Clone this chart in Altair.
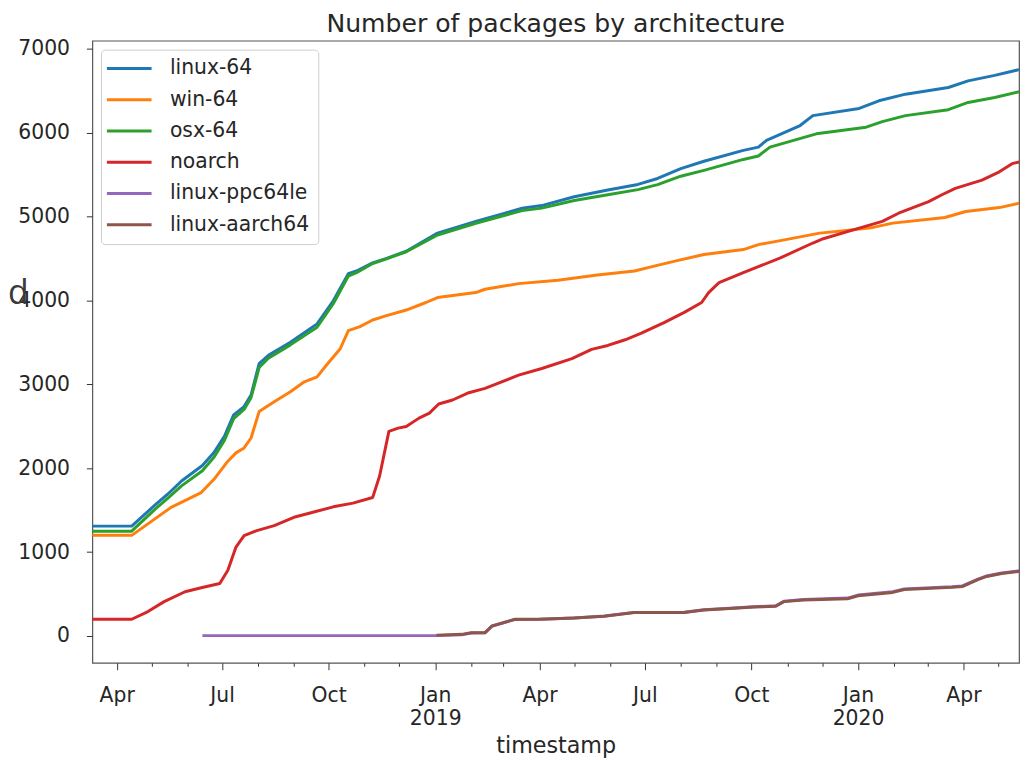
import altair as alt
import pandas as pd

order = ["linux-64", "win-64", "osx-64", "noarch", "linux-ppc64le", "linux-aarch64"]
colors = ["#1f77b4", "#ff7f0e", "#2ca02c", "#d62728", "#9467bd", "#8c564b"]

linux64_dates = ["2018-03-11", "2018-04-14", "2018-05-04", "2018-05-15", "2018-05-27", "2018-06-14",
                 "2018-06-24", "2018-07-03", "2018-07-11", "2018-07-20", "2018-07-26", "2018-08-02",
                 "2018-08-10", "2018-08-29", "2018-09-21", "2018-10-05", "2018-10-18", "2018-10-25",
                 "2018-11-08", "2018-11-20", "2018-12-07", "2019-01-03", "2019-02-05", "2019-03-17",
                 "2019-04-03", "2019-05-01", "2019-05-30", "2019-06-25", "2019-07-12", "2019-08-01",
                 "2019-08-21", "2019-09-24", "2019-10-07", "2019-10-14", "2019-11-12", "2019-11-23",
                 "2020-01-02", "2020-01-19", "2020-02-11", "2020-03-19", "2020-04-05", "2020-04-28",
                 "2020-05-19"]
linux64_vals = [1310, 1310, 1560, 1690, 1848, 2033, 2187, 2380, 2636, 2734, 2872, 3247, 3345, 3502,
                3720, 3995, 4318, 4350, 4448, 4500, 4586, 4802, 4941, 5098, 5130, 5236, 5315, 5382,
                5453, 5571, 5658, 5788, 5827, 5906, 6084, 6202, 6288, 6379, 6458, 6537, 6616, 6682,
                6750]

osx64_dates = ["2018-03-11", "2018-04-14", "2018-05-04", "2018-05-15", "2018-05-27", "2018-06-14",
               "2018-06-24", "2018-07-03", "2018-07-11", "2018-07-20", "2018-07-26", "2018-08-02",
               "2018-08-10", "2018-08-29", "2018-09-21", "2018-10-05", "2018-10-18", "2018-10-25",
               "2018-11-08", "2018-11-20", "2018-12-07", "2019-01-03", "2019-02-05", "2019-03-17",
               "2019-04-03", "2019-05-01", "2019-05-30", "2019-06-25", "2019-07-12", "2019-08-01",
               "2019-08-21", "2019-09-24", "2019-10-07", "2019-10-17", "2019-11-26", "2020-01-08",
               "2020-01-22", "2020-02-11", "2020-03-19", "2020-04-05", "2020-04-28", "2020-05-19"]
osx64_vals = [1250, 1250, 1510, 1640, 1790, 1970, 2130, 2330, 2590, 2700, 2840, 3200, 3310, 3470,
              3680, 3960, 4290, 4330, 4440, 4495, 4580, 4780, 4920, 5070, 5100, 5190, 5260, 5320,
              5380, 5480, 5550, 5680, 5721, 5827, 5985, 6064, 6131, 6202, 6273, 6359, 6418, 6486]

win64_dates = ["2018-03-11", "2018-04-14", "2018-05-18", "2018-06-13", "2018-06-24", "2018-07-06",
               "2018-07-13", "2018-07-20", "2018-07-26", "2018-08-02", "2018-08-15", "2018-08-29",
               "2018-09-10", "2018-09-21", "2018-09-29", "2018-10-11", "2018-10-18", "2018-10-28",
               "2018-11-08", "2018-11-20", "2018-12-07", "2018-12-24", "2019-01-03", "2019-02-05",
               "2019-02-13", "2019-03-14", "2019-04-17", "2019-05-21", "2019-06-08", "2019-06-22",
               "2019-07-09", "2019-07-27", "2019-08-21", "2019-09-24", "2019-10-07", "2019-10-26",
               "2019-11-29", "2019-12-22", "2020-01-14", "2020-01-31", "2020-03-16", "2020-04-03",
               "2020-05-02", "2020-05-19"]
win64_vals = [1200, 1200, 1533, 1710, 1868, 2084, 2183, 2242, 2360, 2675, 2793, 2911, 3030, 3089,
              3227, 3424, 3640, 3688, 3767, 3818, 3885, 3975, 4034, 4093, 4133, 4200, 4240, 4302,
              4330, 4350, 4409, 4468, 4547, 4606, 4665, 4712, 4802, 4834, 4870, 4921, 4988, 5059,
              5106, 5157]

noarch_dates = ["2018-03-11", "2018-04-14", "2018-04-28", "2018-05-12", "2018-05-30", "2018-06-13",
                "2018-06-29", "2018-07-06", "2018-07-13", "2018-07-20", "2018-07-31", "2018-08-15",
                "2018-09-01", "2018-09-15", "2018-10-05", "2018-10-22", "2018-11-08", "2018-11-14",
                "2018-11-22", "2018-11-30", "2018-12-07", "2018-12-18", "2018-12-27", "2019-01-04",
                "2019-01-16", "2019-01-30", "2019-02-13", "2019-03-14", "2019-04-03", "2019-04-29",
                "2019-05-16", "2019-05-30", "2019-06-14", "2019-06-28", "2019-07-18", "2019-08-04",
                "2019-08-19", "2019-08-25", "2019-09-03", "2019-09-24", "2019-10-26", "2019-11-23",
                "2019-12-02", "2020-01-02", "2020-01-22", "2020-02-05", "2020-03-02", "2020-03-13",
                "2020-03-25", "2020-04-17", "2020-05-02", "2020-05-13", "2020-05-19"]
noarch_vals = [200, 200, 292, 410, 528, 575, 626, 784, 1060, 1197, 1256, 1316, 1415, 1466, 1540,
               1584, 1651, 1907, 2439, 2478, 2498, 2597, 2656, 2766, 2813, 2900, 2951, 3109, 3188,
               3306, 3416, 3463, 3531, 3609, 3739, 3857, 3975, 4093, 4211, 4330, 4507, 4684, 4735,
               4861, 4941, 5039, 5177, 5256, 5335, 5434, 5532, 5630, 5650]

ppc_dates = ["2018-06-14", "2019-01-02", "2019-01-24", "2019-02-01", "2019-02-13", "2019-02-19",
             "2019-03-11", "2019-04-01", "2019-05-01", "2019-05-27", "2019-06-22", "2019-08-04",
             "2019-08-21", "2019-09-16", "2019-10-03", "2019-10-22", "2019-10-29", "2019-11-15",
             "2019-12-23", "2020-01-01", "2020-01-31", "2020-02-10", "2020-03-22", "2020-03-31",
             "2020-04-13", "2020-04-21", "2020-05-04", "2020-05-19"]
ppc_vals = [5, 5, 15, 35, 38, 118, 198, 200, 216, 238, 282, 284, 314, 334, 349, 360, 415, 436,
            452, 488, 528, 562, 588, 598, 676, 716, 752, 778]

aarch_dates = ["2019-01-02", "2019-01-24", "2019-02-01", "2019-02-13", "2019-02-19", "2019-03-11",
               "2019-04-01", "2019-05-01", "2019-05-27", "2019-06-22", "2019-08-04", "2019-08-21",
               "2019-09-16", "2019-10-03", "2019-10-22", "2019-10-29", "2019-11-15", "2019-12-23",
               "2020-01-01", "2020-01-31", "2020-02-10", "2020-03-22", "2020-03-31", "2020-04-13",
               "2020-04-21", "2020-05-04", "2020-05-19"]
aarch_vals = [10, 20, 40, 40, 120, 200, 200, 215, 235, 280, 280, 310, 330, 345, 355, 410, 430,
              445, 480, 520, 555, 580, 590, 670, 710, 745, 770]

series = [
    ("linux-64", linux64_dates, linux64_vals),
    ("win-64", win64_dates, win64_vals),
    ("osx-64", osx64_dates, osx64_vals),
    ("noarch", noarch_dates, noarch_vals),
    ("linux-ppc64le", ppc_dates, ppc_vals),
    ("linux-aarch64", aarch_dates, aarch_vals),
]

title_text = "Number of packages by architecture"
side_text = "d"

rows = []
for name, ds, vs in series:
    for d, v in zip(ds, vs):
        rows.append({"arch": name, "timestamp": d + "T00:00:00", "count": v})
df = pd.DataFrame(rows)

month_ticks = []
for y in (2018, 2019, 2020):
    for m in range(1, 13):
        if (y == 2018 and m < 4) or (y == 2020 and m > 5):
            continue
        month_ticks.append(alt.DateTime(year=y, month=m, date=1))

y_ticks = [0, 1000, 2000, 3000, 4000, 5000, 6000, 7000]

FONT = "DejaVu Sans"
TXT = "#262626"
TICK_FS = 20.5
LABEL_FS = 22.4
TITLE_FS = 25.3
W, H = 934, 627

label_expr = ("month(datum.value) % 3 == 0 ? (month(datum.value) == 0 ? "
              "[timeFormat(datum.value, '%b'), timeFormat(datum.value, '%Y')] : "
              "timeFormat(datum.value, '%b')) : ''")

x_enc = alt.X(
    "timestamp:T",
    title="timestamp",
    scale=alt.Scale(domain=[alt.DateTime(year=2018, month=3, date=11),
                            alt.DateTime(year=2020, month=5, date=19)], nice=False),
    axis=alt.Axis(
        values=month_ticks,
        labelExpr=label_expr,
        labelOverlap=False,
        labelFlush=False,
        labelFont=FONT, labelFontSize=TICK_FS, labelColor=TXT,
        labelPadding=16, labelLineHeight=23, labelBaseline="top",
        tickSize={"condition": {"test": "month(datum.value) % 3 == 0", "value": 7}, "value": 3.5},
        tickColor="#333333", tickWidth=1,
        grid=False, domain=False,
        titleFont=FONT, titleFontSize=LABEL_FS, titleFontWeight="normal", titleColor=TXT,
        titlePadding=6,
    ),
)

y_enc = alt.Y(
    "count:Q",
    title=None,
    scale=alt.Scale(domain=[-319, 7095], nice=False, zero=False),
    axis=alt.Axis(
        values=y_ticks, format="d",
        labelFont=FONT, labelFontSize=TICK_FS, labelColor=TXT, labelPadding=17,
        tickSize=6, tickColor="#333333", grid=False, domain=False,
    ),
)

color_enc = alt.Color(
    "arch:N",
    scale=alt.Scale(domain=order, range=colors),
    legend=alt.Legend(
        orient="none", legendX=8.7, legendY=9, title=None,
        symbolType="M-3,0H3", symbolSize=225, symbolStrokeWidth=3,
        labelFont=FONT, labelFontSize=TICK_FS, labelColor=TXT,
        padding=8.75, rowPadding=10.5, symbolOffset=9.5, labelOffset=30.75,
        fillColor="rgba(255,255,255,0.8)", strokeColor="#cccccc", cornerRadius=4,
    ),
)

layers = []
for name in order:
    layers.append(
        alt.Chart(df).transform_filter(alt.datum.arch == name)
        .mark_line(strokeWidth=3, strokeJoin="round", strokeCap="butt")
        .encode(x=x_enc, y=y_enc, color=color_enc)
    )

title_mark = alt.Chart(pd.DataFrame({"t": [title_text]})).mark_text(
    font=FONT, fontSize=TITLE_FS, color=TXT, align="center", baseline="alphabetic"
).encode(text="t:N", x=alt.value(W / 2), y=alt.value(-9))

d_text = alt.Chart(pd.DataFrame({"t": [side_text]})).mark_text(
    font="Open Sans", fontSize=34, color="#3a3a3a", align="left", baseline="alphabetic"
).encode(text="t:N", x=alt.value(-85), y=alt.value(265))

chart = alt.layer(*layers, title_mark, d_text).properties(
    width=W, height=H,
    autosize=alt.AutoSizeParams(type="none"),
    padding={"left": 85, "top": 30, "right": 4, "bottom": 95},
).configure_view(stroke="#555555", strokeWidth=1.2)

chart.save("out.html", embed_options={"renderer": "svg", "actions": False})
